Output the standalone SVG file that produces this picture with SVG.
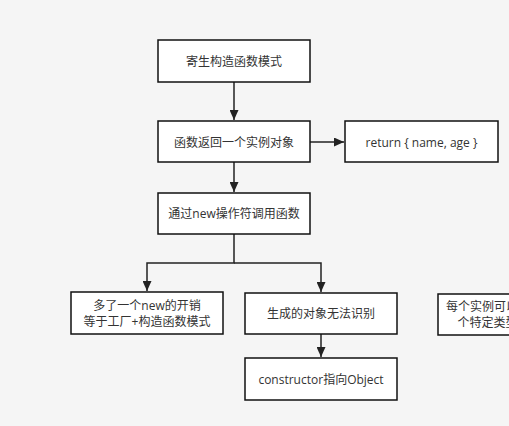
<svg xmlns="http://www.w3.org/2000/svg" width="509" height="426" viewBox="0 0 509 426">
<defs>
<style>
.box{fill:#ffffff;stroke:#111111;stroke-width:1.5}
.t{font-family:"Open Sans","Noto Sans CJK SC",sans-serif;font-size:12px;fill:#333333;text-anchor:middle;dominant-baseline:central}
.ts{font-family:"Open Sans","Noto Sans CJK SC",sans-serif;font-size:12px;fill:#333333;dominant-baseline:central}
.c{fill:none;stroke:#222222;stroke-width:1.5}
</style>
<marker id="arr" viewBox="0 0 10 10" refX="10" refY="5" markerWidth="10" markerHeight="9" markerUnits="userSpaceOnUse" orient="auto" preserveAspectRatio="none">
<path d="M0,0 L10,5 L0,10 Z" fill="#222222"/>
</marker>
</defs>
<rect x="0" y="0" width="509" height="426" fill="#f5f5f5"/>
<g id="connectors">
<path class="c" d="M234,82 V120" marker-end="url(#arr)"/>
<path class="c" d="M310,142 H344" marker-end="url(#arr)"/>
<path class="c" d="M234,162 V192" marker-end="url(#arr)"/>
<path class="c" d="M234,234 V263 H147 V291" marker-end="url(#arr)"/>
<path class="c" d="M234,263 H321 V292" marker-end="url(#arr)"/>
<path class="c" d="M321,334 V357" marker-end="url(#arr)"/>
</g>
<g id="n1"><rect class="box" x="158" y="40" width="152" height="42"/><text class="t" x="234" y="61">寄生构造函数模式</text></g>
<g id="n2"><rect class="box" x="158" y="121" width="152" height="41"/><text class="t" x="234" y="142">函数返回一个实例对象</text></g>
<g id="n3"><rect class="box" x="345" y="121" width="153" height="41"/><text class="t" x="421.5" y="142">return { name, age }</text></g>
<g id="n4"><rect class="box" x="158" y="193" width="152" height="41"/><text class="t" x="234" y="213.5">通过new操作符调用函数</text></g>
<g id="n5"><rect class="box" x="71" y="292" width="152" height="42"/><text class="t" x="147" y="305.5">多了一个new的开销</text><text class="t" x="147" y="321">等于工厂+构造函数模式</text></g>
<g id="n6"><rect class="box" x="245" y="293" width="152" height="41"/><text class="t" x="321" y="313.5">生成的对象无法识别</text></g>
<g id="n7"><rect class="box" x="438" y="294" width="152" height="41"/><text class="ts" x="446" y="306.5">每个实例可以被识别为一</text><text class="ts" x="457.5" y="322">个特定类型</text></g>
<g id="n8"><rect class="box" x="245" y="358" width="152" height="42"/><text class="t" x="321" y="379">constructor指向Object</text></g>
</svg>
